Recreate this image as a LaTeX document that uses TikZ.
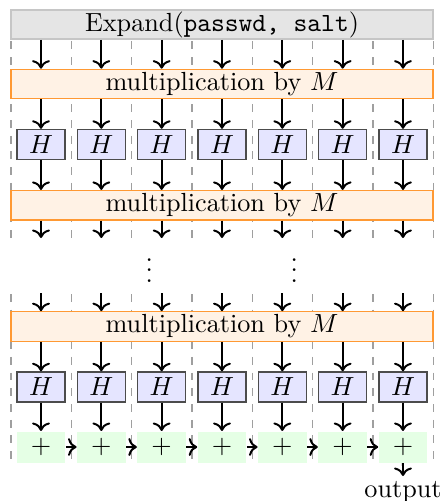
\documentclass[tikz,border=0pt]{standalone}
\usetikzlibrary{arrows.meta}
\begin{document}
\begin{tikzpicture}[x=0.3817pt,y=-0.3817pt,
  expandbox/.style={draw=gray!45, fill=gray!20, line width=0.7pt, minimum width=422*0.3817pt, minimum height=29*0.3817pt, inner sep=0pt},
  multbox/.style={draw=orange!80, fill=orange!10, line width=0.45pt, minimum width=422*0.3817pt, minimum height=29.5*0.3817pt, inner sep=0pt},
  hbox/.style={draw=black!70, fill=blue!10, line width=0.55pt, minimum width=48*0.3817pt, minimum height=30*0.3817pt, inner sep=0pt},
  plusbox/.style={fill=green!10, minimum width=48.5*0.3817pt, minimum height=31*0.3817pt, inner sep=0pt},
  flow/.style={->, line width=0.75pt},
  sep/.style={dashed, gray!75, line width=0.4pt}]
\useasboundingbox (0,0) rectangle (443,501);
% dashed column separators
\foreach \k in {0,...,7} {
  \pgfmathsetmacro\sx{11+60.33*\k}
  \draw[sep] (\sx,10) -- (\sx,240);
  \draw[sep] (\sx,294) -- (\sx,463);
}
\node[expandbox] (ex) at (222,24.5) {Expand(\texttt{passwd, salt})};
\node[multbox] (m1) at (222,84) {multiplication by $M$};
\node[multbox] (m2) at (222,205.25) {multiplication by $M$};
\node[multbox] (m3) at (222,326.5) {multiplication by $M$};
\foreach \i in {1,...,7} {
  \pgfmathsetmacro\cx{41+60.33*(\i-1)}
  \node[hbox] (ha\i) at (\cx,144.5) {$H$};
  \node[hbox] (hb\i) at (\cx,387) {$H$};
  \node[plusbox] (p\i) at (\cx,447) {$+$};
  \coordinate (da\i) at (\cx,238);
  \coordinate (db\i) at (\cx,293);
}
\node[anchor=base] (v1) at (149.3,282.3) {$\vdots$};
\node[anchor=base] (v2) at (294.3,282.3) {$\vdots$};
\foreach \i in {1,...,7} {
  \draw[flow] (ex.south -| ha\i) -- (m1.north -| ha\i);
  \draw[flow] (m1.south -| ha\i) -- (ha\i.north);
  \draw[flow] (ha\i.south) -- (m2.north -| ha\i);
  \draw[flow] (m2.south -| ha\i) -- (da\i);
  \draw[flow] (db\i) -- (m3.north -| hb\i);
  \draw[flow] (m3.south -| hb\i) -- (hb\i.north);
  \draw[flow] (hb\i.south) -- (p\i.north);
}
\foreach \i/\j in {1/2,2/3,3/4,4/5,5/6,6/7} {
  \draw[flow] (p\i.east) -- (p\j.west);
}
\node[anchor=north, inner sep=2pt] (out) at (403,476) {output};
\draw[flow] (p7.south) -- (out.north);
\end{tikzpicture}
\end{document}
